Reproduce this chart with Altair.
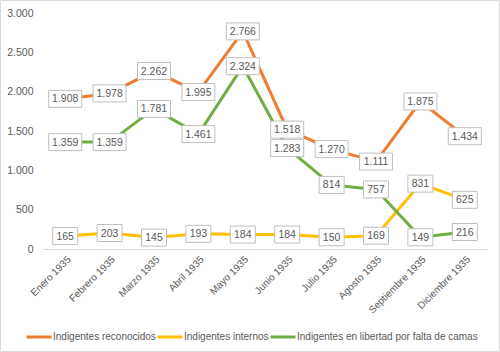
import altair as alt
import pandas as pd

months = ["Enero 1935", "Febrero 1935", "Marzo 1935", "Abril 1935", "Mayo 1935",
          "Junio 1935", "Julio 1935", "Agosto 1935", "Septiembre 1935", "Diciembre 1935"]
series_names = ["Indigentes reconocidos", "Indigentes internos",
                "Indigentes en libertad por falta de camas"]
reconocidos = [1908, 1978, 2262, 1995, 2766, 1518, 1270, 1111, 1875, 1434]
internos = [165, 203, 145, 193, 184, 184, 150, 169, 831, 625]
libertad = [1359, 1359, 1781, 1461, 2324, 1283, 814, 757, 149, 216]
colors = ["#ED7D31", "#FFC000", "#70AD47"]

rows = []
for name, vals in zip(series_names, [reconocidos, internos, libertad]):
    for m, v in zip(months, vals):
        rows.append({"mes": m, "serie": name, "valor": v})
df = pd.DataFrame(rows)

FONT = "Liberation Sans"
GRAY = "#595959"

base = alt.Chart(df).encode(
    x=alt.X("mes:N", sort=months, title=None,
            axis=alt.Axis(labelAngle=-45, ticks=False, domainColor="#d9d9d9",
                          labelColor=GRAY, labelFontSize=10, labelFont=FONT,
                          labelPadding=5)),
    y=alt.Y("valor:Q", title=None,
            scale=alt.Scale(domain=[0, 3000], nice=False),
            axis=alt.Axis(values=[0, 500, 1000, 1500, 2000, 2500, 3000],
                          grid=False, domain=False, ticks=False,
                          labelColor=GRAY, labelFontSize=10.5, labelFont=FONT,
                          labelPadding=10,
                          labelExpr="replace(format(datum.value, ','), ',', '.')")),
)

lines = base.mark_line(strokeWidth=3, strokeCap="round", strokeJoin="round").encode(
    color=alt.Color("serie:N", sort=series_names,
                    scale=alt.Scale(domain=series_names, range=colors),
                    legend=alt.Legend(title=None, orient="none", direction="horizontal",
                                      legendX=-18, legendY=310,
                                      symbolType="stroke", symbolSize=625,
                                      symbolStrokeWidth=3, labelOffset=0,
                                      columnPadding=-9, labelColor=GRAY,
                                      labelFontSize=10, labelFont=FONT,
                                      labelLimit=0)),
    order=alt.Order("serie_idx:Q"),
).transform_calculate(
    serie_idx="indexof(%s, datum.serie)" % str(series_names).replace("'", '"')
)

# label boxes centred on each point (path units are pixels at size 4)
box_wide = "M-16.5,-8.5L16.5,-8.5L16.5,8.5L-16.5,8.5Z"
box_narrow = "M-12.5,-8.5L12.5,-8.5L12.5,8.5L-12.5,8.5Z"

boxes = base.mark_point(filled=True, fill="white", stroke="#bfbfbf", strokeWidth=1,
                        opacity=1, size=4).encode(
    shape=alt.Shape("ancho:N", scale=alt.Scale(domain=["w", "n"],
                                               range=[box_wide, box_narrow]),
                    legend=None)
).transform_calculate(ancho="datum.valor >= 1000 ? 'w' : 'n'")

labels = base.mark_text(fontSize=10.5, font=FONT, color=GRAY, baseline="middle",
                        align="center", dy=0.5).encode(
    text="etiqueta:N"
).transform_calculate(etiqueta="replace(format(datum.valor, ','), ',', '.')")

frame = alt.Chart(pd.DataFrame({"a": [0]})).mark_rect(
    fill=None, stroke="#d9d9d9", strokeWidth=1
).encode(x=alt.value(-42.5), x2=alt.value(456.5), y=alt.value(-12.5), y2=alt.value(338.5))

chart = alt.layer(frame, lines, boxes, labels).properties(
    width=444, height=236,
    autosize=alt.AutoSizeParams(type="none"),
    padding={"left": 43, "top": 13, "right": 13, "bottom": 103},
    background="white",
).configure_view(stroke=None)

chart.save("out.html", embed_options={"renderer": "svg", "actions": False})
